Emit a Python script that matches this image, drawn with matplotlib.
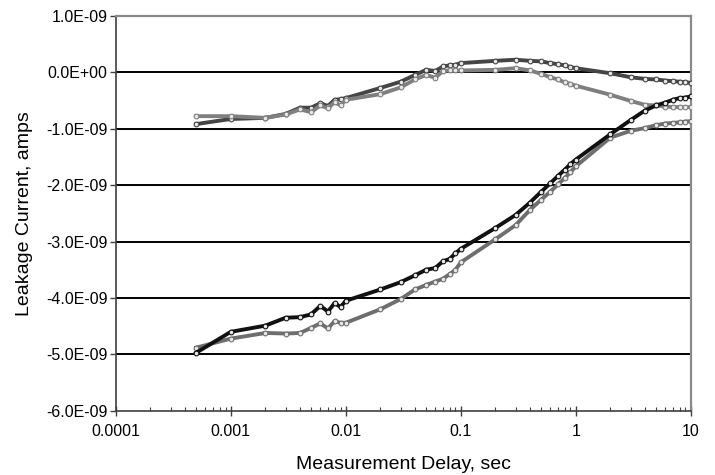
import matplotlib
matplotlib.use("Agg")
import matplotlib.pyplot as plt
from matplotlib.ticker import FuncFormatter, LogLocator, NullFormatter

plt.rcParams['font.family'] = ['Liberation Sans', 'DejaVu Sans']

# measurement delay, sec
delay = [0.0005,
         0.001, 0.002, 0.003, 0.004, 0.005, 0.006, 0.007, 0.008, 0.009,
         0.01, 0.02, 0.03, 0.04, 0.05, 0.06, 0.07, 0.08, 0.09,
         0.1, 0.2, 0.3, 0.4, 0.5, 0.6, 0.7, 0.8, 0.9,
         1, 2, 3, 4, 5, 6, 7, 8, 9, 10]

# leakage current, nA (scaled to amps below)
top_dark = [-0.92,
            -0.83, -0.81, -0.74, -0.63, -0.63, -0.55, -0.60, -0.49, -0.48,
            -0.46, -0.28, -0.17, -0.05, 0.04, 0.02, 0.10, 0.12, 0.13,
            0.16, 0.20, 0.22, 0.20, 0.19, 0.16, 0.14, 0.12, 0.09,
            0.07, -0.02, -0.09, -0.12, -0.13, -0.15, -0.16, -0.17, -0.18, -0.19]
top_gray = [-0.78,
            -0.78, -0.81, -0.75, -0.66, -0.71, -0.59, -0.64, -0.53, -0.59,
            -0.49, -0.39, -0.27, -0.13, -0.05, -0.10, 0.02, 0.03, 0.03,
            0.03, 0.04, 0.07, 0.03, -0.03, -0.09, -0.13, -0.18, -0.21,
            -0.24, -0.40, -0.51, -0.58, -0.59, -0.61, -0.62, -0.62, -0.62, -0.62]
bot_black = [-4.97,
             -4.60, -4.49, -4.35, -4.34, -4.29, -4.14, -4.24, -4.09, -4.16,
             -4.05, -3.85, -3.72, -3.60, -3.50, -3.47, -3.35, -3.31, -3.21,
             -3.13, -2.76, -2.53, -2.31, -2.12, -1.97, -1.84, -1.73, -1.63,
             -1.55, -1.10, -0.85, -0.68, -0.59, -0.54, -0.49, -0.46, -0.45, -0.43]
bot_gray = [-4.88,
            -4.72, -4.62, -4.63, -4.62, -4.53, -4.45, -4.54, -4.41, -4.44,
            -4.44, -4.20, -4.02, -3.85, -3.77, -3.71, -3.66, -3.58, -3.50,
            -3.37, -2.96, -2.71, -2.44, -2.26, -2.12, -1.99, -1.88, -1.77,
            -1.67, -1.16, -1.04, -0.99, -0.94, -0.91, -0.90, -0.89, -0.875, -0.87]

series = [(top_dark, '#454545'), (top_gray, '#7f7f7f'),
          (bot_gray, '#6e6e6e'), (bot_black, '#111111')]

fig = plt.figure(figsize=(7.15, 4.75), dpi=100)
ax = fig.add_axes([0.162, 0.135, 0.804, 0.832])

yticks = [1e-9, 0, -1e-9, -2e-9, -3e-9, -4e-9, -5e-9, -6e-9]
for t in yticks[1:-1]:
    ax.axhline(t, color='black', lw=1.4, zorder=1)

for vals, col in series:
    ax.plot(delay, [v * 1e-9 for v in vals], color=col, lw=2.8,
            marker='o', ms=3.4, mfc='#e8e8e8', mec=col, mew=0.8, zorder=3)

ax.set_xscale('log')
ax.set_xlim(0.0001, 10)
ax.set_ylim(-6e-9, 1e-9)
ax.set_yticks(yticks)
ax.yaxis.set_major_formatter(FuncFormatter(lambda v, p: '%.1E' % v if v != 0 else '0.0E+00'))
ax.set_xticks([0.0001, 0.001, 0.01, 0.1, 1, 10])
ax.xaxis.set_major_formatter(FuncFormatter(lambda v, p: '%g' % v))
ax.xaxis.set_minor_locator(LogLocator(base=10, subs=range(2, 10)))
ax.xaxis.set_minor_formatter(NullFormatter())

ax.tick_params(axis='y', direction='out', length=4, width=1, color='#404040',
               labelsize=11.5, pad=2)
ax.tick_params(axis='x', which='major', direction='inout', length=7, width=1,
               color='#404040', labelsize=11.5, pad=6)
ax.tick_params(axis='x', which='minor', direction='in', length=3, width=0.8,
               color='#404040')

for s in ['left', 'bottom']:
    ax.spines[s].set_color('#404040')
    ax.spines[s].set_linewidth(1.2)
for s in ['top', 'right']:
    ax.spines[s].set_color('#8a8a8a')
    ax.spines[s].set_linewidth(1.6)

ax.set_xlabel('Measurement Delay, sec', fontsize=14, labelpad=12)
ax.set_ylabel('Leakage Current, amps', fontsize=14, labelpad=9)

fig.savefig('out.png', dpi=100)
